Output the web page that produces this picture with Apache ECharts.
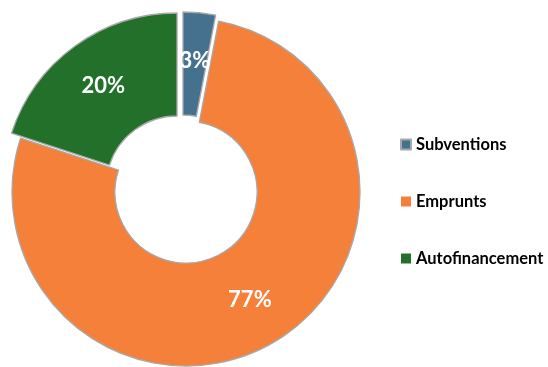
<!DOCTYPE html>
<html>
<head>
<meta charset="utf-8">
<script src="https://cdn.jsdelivr.net/npm/echarts@6/dist/echarts.min.js"></script>
<style>html,body{margin:0;padding:0;background:#fff;}#c{width:548px;height:367px;}</style>
</head>
<body>
<div id="c"></div>
<script>
const categories = ['Subventions', 'Emprunts', 'Autofinancement'];
const values = [3, 77, 20];
const colors = ['#44718e', '#f5803a', '#23702b'];
// exploded slice centres (styling)
const centers = [[183, 186], [186, 192], [177, 187]];

const chart = echarts.init(document.getElementById('c'), null, {renderer: 'canvas'});
const series = categories.map((_, k) => ({
  type: 'pie',
  center: centers[k],
  radius: [71, 174],
  startAngle: 90,
  clockwise: true,
  silent: true,
  animation: false,
  avoidLabelOverlap: false,
  labelLine: {show: false},
  label: {
    position: 'inside',
    color: '#fff',
    fontFamily: 'Lato',
    fontWeight: 'bold',
    fontSize: 22,
    formatter: p => p.value + '%'
  },
  data: categories.map((name, i) => ({
    name: name,
    value: values[i],
    itemStyle: i === k
      ? {color: colors[i], borderColor: '#a8a8a8', borderWidth: 1.3}
      : {color: 'rgba(0,0,0,0)', borderWidth: 0},
    label: {show: i === k}
  }))
}));

chart.setOption({
  animation: false,
  legend: {
    orient: 'vertical',
    left: 395,
    top: 131,
    padding: 5,
    itemWidth: 10,
    itemHeight: 10,
    itemGap: 40,
    icon: 'rect',
    selectedMode: false,
    textStyle: {fontFamily: 'Lato', fontWeight: 'bold', fontSize: 16.5, color: '#000'},
    data: categories.map((name, i) => ({name: name, itemStyle: {color: colors[i]}}))
  },
  series: series
});
</script>
</body>
</html>
